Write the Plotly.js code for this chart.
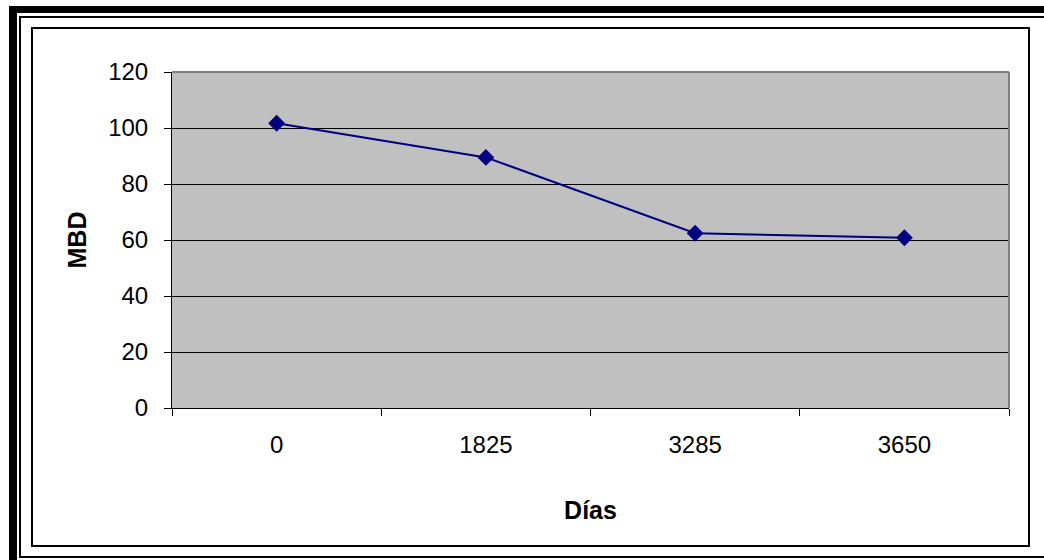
<!DOCTYPE html>
<html>
<head>
<meta charset="utf-8">
<script src="https://cdn.plot.ly/plotly-3.0.1.min.js"></script>
<style>
  html, body { margin: 0; padding: 0; background: #fff; overflow: hidden; }
  #wrap { position: relative; width: 1044px; height: 560px; overflow: hidden; }
  #chart { position: absolute; left: 0; top: 0; width: 1044px; height: 560px; }
  .frame { position: absolute; pointer-events: none; box-sizing: border-box; }
</style>
</head>
<body>
<div id="wrap">
  <div id="chart"></div>
  <div class="frame" style="left:9px;top:6px;width:1200px;height:700px;border-left:8px solid #000;border-top:7px solid #000;"></div>
  <div class="frame" style="left:19px;top:16px;width:1200px;height:542px;border-left:2px solid #000;border-top:2px solid #000;border-bottom:2px solid #000;"></div>
  <div class="frame" style="left:31px;top:27px;width:999px;height:520px;border:2px solid #000;"></div>
</div>
<script>
const categories = ["0", "1825", "3285", "3650"];
const mbd = [101.7, 89.5, 62.4, 60.8];
const yTicks = [0, 20, 40, 60, 80, 100, 120];
const xTitle = "Días";
const yTitle = "MBD";

const font = "Liberation Sans, Arial, sans-serif";

const trace = {
  x: categories,
  y: mbd,
  type: "scatter",
  mode: "lines+markers",
  line: { color: "#000080", width: 2 },
  marker: { symbol: "diamond", size: 13, color: "#000080" },
  hoverinfo: "x+y"
};

const layout = {
  width: 1044,
  height: 560,
  margin: { l: 172, r: 35, t: 72, b: 152 },
  paper_bgcolor: "#ffffff",
  plot_bgcolor: "#c0c0c0",
  showlegend: false,
  font: { family: font, color: "#000", size: 24 },
  xaxis: {
    type: "category",
    range: [-0.5, 3.5],
    tickson: "boundaries",
    ticks: "outside",
    ticklen: 7,
    tickwidth: 1,
    tickcolor: "#000",
    ticklabelstandoff: 15,
    showgrid: false,
    showline: true,
    linecolor: "#000",
    linewidth: 1,
    mirror: false,
    zeroline: false,
    automargin: false,
    tickfont: { family: font, size: 24, color: "#000" },
    title: { text: xTitle, font: { family: font, size: 25, color: "#000", weight: "bold" }, standoff: 44 }
  },
  yaxis: {
    range: [0, 120],
    tickvals: yTicks,
    ticks: "outside",
    ticklen: 7,
    tickwidth: 1,
    tickcolor: "#000",
    ticklabelstandoff: 11,
    showgrid: true,
    gridcolor: "#000",
    gridwidth: 1,
    showline: true,
    linecolor: "#000",
    linewidth: 1,
    zeroline: false,
    automargin: false,
    tickfont: { family: font, size: 24, color: "#000" },
    title: { text: yTitle, font: { family: font, size: 25, color: "#000", weight: "bold" }, standoff: 14 }
  },
  shapes: [
    { type: "line", xref: "paper", yref: "paper", x0: 0, x1: 1, y0: 1, y1: 1, line: { color: "#808080", width: 2 } },
    { type: "line", xref: "paper", yref: "paper", x0: 1, x1: 1, y0: 0, y1: 1, line: { color: "#808080", width: 2 } }
  ]
};

Plotly.newPlot("chart", [trace], layout, { displayModeBar: false, staticPlot: true });
</script>
</body>
</html>
